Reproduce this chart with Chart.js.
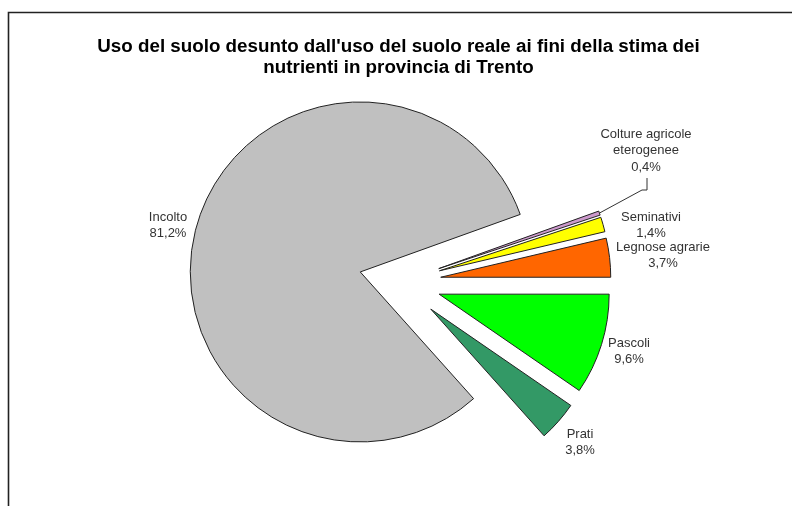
<!DOCTYPE html>
<html><head><meta charset="utf-8">
<script src="https://cdn.jsdelivr.net/npm/chart.js@4/dist/chart.umd.min.js"></script>
<style>html,body{margin:0;padding:0;background:#fff}canvas{display:block}</style>
</head><body>
<canvas id="c" width="792" height="506"></canvas>
<script>
// ---- data ----
const categories = ['Pascoli', 'Prati', 'Incolto', 'Colture agricole eterogenee', 'Seminativi', 'Legnose agrarie'];
const categoryLines = [['Pascoli'], ['Prati'], ['Incolto'], ['Colture agricole', 'eterogenee'], ['Seminativi'], ['Legnose agrarie']];
const values = [9.6, 3.8, 81.2, 0.4, 1.4, 3.7];
const titleLines = ["Uso del suolo desunto dall'uso del suolo reale ai fini della stima dei", 'nutrienti in provincia di Trento'];

// ---- styles / layout ----
const colors = ['#00FF00', '#339966', '#C0C0C0', '#CC99CC', '#FFFF00', '#FF6600'];
const labelAnchors = [[629, 343], [580, 434], [168, 217], [646, 134], [651, 217], [663, 247]];
const leaderIndex = 3;
const leaderPath = [[642, 190], [647, 190], [647, 178]];
const explodeDist = 41;

const fmt = v => v.toFixed(1).replace('.', ',') + '%';

const explodePlugin = {
  id: 'explode',
  afterDatasetsUpdate(chart) {
    const meta = chart.getDatasetMeta(0);
    meta.data.forEach(el => {
      const mid = (el.startAngle + el.endAngle) / 2;
      el.x += Math.cos(mid) * explodeDist;
      el.y += Math.sin(mid) * explodeDist;
    });
  }
};

const decorPlugin = {
  id: 'decor',
  beforeDraw(chart) {
    const ctx = chart.ctx;
    ctx.save();
    ctx.fillStyle = '#fff';
    ctx.fillRect(0, 0, chart.width, chart.height);
    ctx.strokeStyle = '#222';
    ctx.lineWidth = 1.6;
    ctx.beginPath();
    ctx.moveTo(8.5, chart.height);
    ctx.lineTo(8.5, 12.5);
    ctx.lineTo(chart.width, 12.5);
    ctx.stroke();
    ctx.restore();
  },
  afterDatasetsDraw(chart) {
    const ctx = chart.ctx;
    const meta = chart.getDatasetMeta(0);
    ctx.save();
    // title
    ctx.fillStyle = '#000';
    ctx.font = 'bold 18.8px "Liberation Sans", Arial, sans-serif';
    ctx.textAlign = 'center';
    ctx.textBaseline = 'middle';
    ctx.fillText(titleLines[0], 398.5, 47);
    ctx.fillText(titleLines[1], 398.5, 68);
    // leader line
    const el = meta.data[leaderIndex];
    const mid = (el.startAngle + el.endAngle) / 2;
    ctx.strokeStyle = '#333';
    ctx.lineWidth = 1;
    ctx.beginPath();
    ctx.moveTo(el.x + Math.cos(mid) * el.outerRadius, el.y + Math.sin(mid) * el.outerRadius);
    leaderPath.forEach(p => ctx.lineTo(p[0], p[1]));
    ctx.stroke();
    // labels
    ctx.fillStyle = '#333';
    ctx.font = '13px "Liberation Sans", Arial, sans-serif';
    const lh = 16.5;
    categories.forEach((c, i) => {
      const lines = categoryLines[i].concat([fmt(values[i])]);
      const [x, y] = labelAnchors[i];
      lines.forEach((t, k) => ctx.fillText(t, x, y + k * lh));
    });
    ctx.restore();
  }
};

new Chart(document.getElementById('c'), {
  type: 'pie',
  data: {
    labels: categories,
    datasets: [{
      data: values,
      backgroundColor: colors,
      borderColor: '#222',
      borderWidth: 1,
      hoverOffset: 0
    }]
  },
  options: {
    responsive: false,
    animation: false,
    events: [],
    rotation: 90,
    radius: 170,
    layout: { padding: { left: 8, right: 0, top: 70, bottom: 12 } },
    plugins: { legend: { display: false }, tooltip: { enabled: false }, title: { display: false } }
  },
  plugins: [explodePlugin, decorPlugin]
});
</script>
</body></html>
